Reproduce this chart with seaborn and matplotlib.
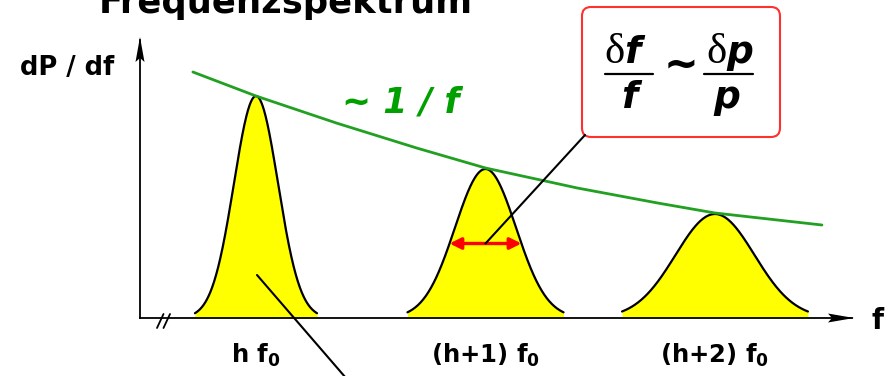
import numpy as np
import pandas as pd
import matplotlib
matplotlib.use("Agg")
import matplotlib.pyplot as plt
from matplotlib.patches import FancyBboxPatch, Polygon, ConnectionPatch
import seaborn as sns

# Harmonic lines: offsets from h, peak heights and widths (arbitrary units)
harmonic_offsets = [0, 1, 2]
peak_heights = [222, 149, 104]
peak_sigmas = [0.096, 0.133, 0.172]
peak_halfspans = [0.266, 0.34, 0.405]
tick_labels = [r"h f$_\mathsf{0}$", r"(h+1) f$_\mathsf{0}$", r"(h+2) f$_\mathsf{0}$"]

# Envelope ~ 1/f
envelope_x = [-0.275, 0.0, 0.35, 0.7, 1.0, 1.4, 1.75, 2.0, 2.466]
envelope_y = [246, 222, 195, 170, 150, 130, 115, 105, 93]

sns.set_theme(style="white")
plt.rcParams["font.family"] = ["DejaVu Sans"]
plt.rcParams["mathtext.fontset"] = "custom"
plt.rcParams["mathtext.rm"] = "DejaVu Sans:bold"
plt.rcParams["mathtext.sf"] = "DejaVu Sans:bold"
plt.rcParams["mathtext.it"] = "DejaVu Sans:italic"

W, H = 895, 376
fig = plt.figure(figsize=(W / 100, H / 100), dpi=100)
fig.patch.set_facecolor("white")

# main plotting area
ax = fig.add_axes([140 / W, (H - 318) / H, (852 - 140) / W, (318 - 40) / H])
ax.set_xlim(-0.5054, 2.597)
ax.set_ylim(0, 278)
ax.set_facecolor("none")

for c, h, s, hs in zip(harmonic_offsets, peak_heights, peak_sigmas, peak_halfspans):
    xs = np.linspace(c - hs, c + hs, 300)
    ys = h * np.exp(-0.5 * ((xs - c) / s) ** 2)
    ax.fill_between(xs, 0, ys, color="#FFFF00", lw=0, zorder=1)
    sns.lineplot(x=xs, y=ys, ax=ax, color="black", lw=1.6, sort=False, zorder=2)

env = pd.DataFrame({"f": envelope_x, "P": envelope_y})
sns.lineplot(data=env, x="f", y="P", ax=ax, color="#22A022", lw=2.0, zorder=3)

# width marker at half maximum of the middle line
hw = peak_sigmas[1] * np.sqrt(2 * np.log(2))
ymid = peak_heights[1] / 2
ax.annotate("", xy=(harmonic_offsets[1] - hw, ymid), xytext=(harmonic_offsets[1] + hw, ymid),
            arrowprops=dict(arrowstyle="<|-|>", color="#FF0000", lw=2.4,
                            mutation_scale=17, shrinkA=0, shrinkB=0), zorder=4)

for side in ["top", "right"]:
    ax.spines[side].set_visible(False)
for side in ["left", "bottom"]:
    ax.spines[side].set_color("black")
    ax.spines[side].set_linewidth(1.3)
ax.set_yticks([])
ax.set_xticks(harmonic_offsets)
ax.set_xticklabels(tick_labels)
ax.tick_params(axis="x", direction="inout", length=13.7, width=1.0, color="black",
               pad=10.5, labelsize=17.5, labelcolor="black")
for lab in ax.get_xticklabels():
    lab.set_fontweight("bold")
ax.set_xlabel("")
ax.set_ylabel("")

# annotation layer in pixel units
ann = fig.add_axes([0, 0, 1, 1])
ann.set_xlim(0, W)
ann.set_ylim(H, 0)
ann.set_axis_off()

# axis arrowheads
ann.add_patch(Polygon([(140, 37), (135.5, 62), (140, 58), (144.5, 62)], closed=True,
                      color="black", lw=0))
ann.add_patch(Polygon([(854, 318), (828, 313.5), (832, 318), (828, 322.5)], closed=True,
                      color="black", lw=0))
# axis break
ann.plot([157, 163.5], [328, 314], color="black", lw=1.3)
ann.plot([163.5, 170], [328, 314], color="black", lw=1.3)

ann.text(286, 13, "Frequenzspektrum", fontsize=25.5, fontweight="bold",
         ha="center", va="baseline", color="black")
ann.text(20, 75, "dP / df", fontsize=18.5, fontweight="bold", ha="left",
         va="baseline", color="black")
ann.text(872, 329, "f", fontsize=20, fontweight="bold", ha="left", va="baseline",
         color="black")
ann.text(342, 112, "~ 1 / f", fontsize=25, fontweight="bold", style="italic",
         ha="left", va="baseline", color="#00A000")

# relation box: df/f ~ dp/p
box = FancyBboxPatch((582, 7), 198, 130, boxstyle="round,pad=0,rounding_size=9",
                     facecolor="white", edgecolor="#FF3030", lw=1.5)
ann.add_patch(box)
serif = dict(family="Liberation Serif", fontsize=31, color="black", va="baseline")
var = dict(family="DejaVu Sans", fontsize=27, fontweight="bold", style="italic",
           color="black", va="baseline")
ann.text(625, 63, "δ", ha="right", **serif)
ann.text(624, 63, "f", ha="left", **var)
ann.plot([605, 653], [74, 74], color="black", lw=1.6)
ann.text(629, 108, "f", ha="center", **var)
ann.text(681, 66, "~", ha="center", va="center", fontsize=30, fontweight="bold",
         family="DejaVu Sans", color="black")
ann.text(727, 63, "δ", ha="right", **serif)
ann.text(726, 63, "p", ha="left", **var)
ann.plot([704, 753], [74, 74], color="black", lw=1.6)
ann.text(727, 108, "p", ha="center", **var)

# leader lines
con = ConnectionPatch(xyA=(585, 135), coordsA=ann.transData,
                      xyB=(harmonic_offsets[1], ymid), coordsB=ax.transData,
                      color="black", lw=1.5)
fig.add_artist(con)
ann.plot([257, 352], [275, 385], color="black", lw=1.5, clip_on=False)

fig.savefig("out.png", dpi=100)
